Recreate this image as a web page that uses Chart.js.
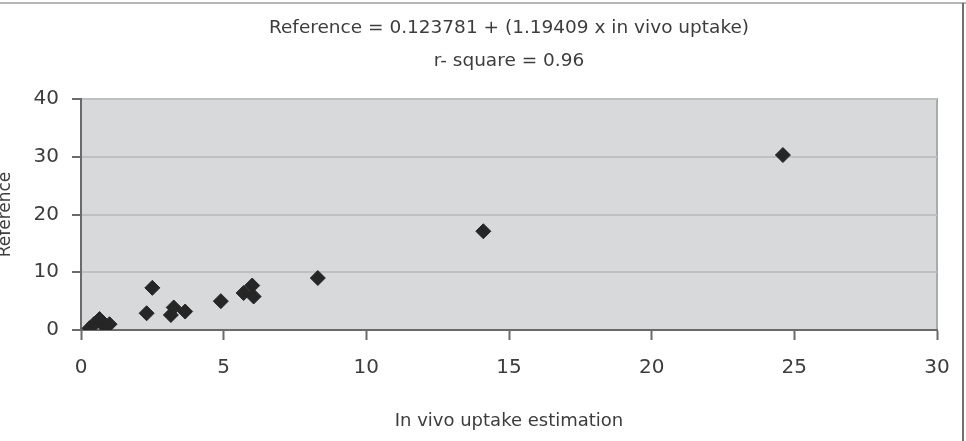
<!DOCTYPE html>
<html>
<head>
<meta charset="utf-8">
<script src="https://cdn.jsdelivr.net/npm/chart.js@4/dist/chart.umd.min.js"></script>
<style>
  html, body { margin: 0; padding: 0; background: #ffffff; }
  #wrap { width: 966px; height: 441px; position: relative; }
</style>
</head>
<body>
<div id="wrap"><canvas id="chart" width="966" height="441"></canvas></div>
<script>
// In vivo uptake estimation (x) against reference value (y)
const uptakeEstimation = [0.3, 0.45, 0.65, 0.85, 1.0, 2.3, 2.5, 3.15, 3.25, 3.65, 4.9, 5.7, 6.0, 6.05, 8.3, 14.1, 24.6];
const referenceValues  = [0.3, 1.0, 1.9, 0.5, 1.0, 2.9, 7.3, 2.6, 3.9, 3.2, 5.0, 6.4, 7.7, 5.8, 9.0, 17.1, 30.3];

const titleLines = ["Reference = 0.123781 + (1.19409 x in vivo uptake)", "r- square = 0.96"];
const xAxisTitle = "In vivo uptake estimation";
const yAxisTitle = "Reference";

const xTicks = [0, 5, 10, 15, 20, 25, 30];
const yTicks = [0, 10, 20, 30, 40];

const points = uptakeEstimation.map((x, i) => ({ x: x, y: referenceValues[i] }));

const fontFamily = "'DejaVu Sans', sans-serif";
const textColor = "#3d3d3d";
const axisColor = "#6a6a6a";

// grey plot background + frame lines
const plotBackground = {
  id: "plotBackground",
  beforeDraw(chart) {
    const { ctx, chartArea: a } = chart;
    ctx.save();
    ctx.fillStyle = "#d8d9db";
    ctx.fillRect(a.left, a.top, a.right - a.left, a.bottom - a.top);
    ctx.strokeStyle = "#a9aaac";
    ctx.lineWidth = 2;
    ctx.beginPath();
    ctx.moveTo(a.left, a.top);
    ctx.lineTo(a.right, a.top);
    ctx.lineTo(a.right, a.bottom);
    ctx.stroke();
    ctx.restore();
  },
  afterDraw(chart) {
    const { ctx, width, height } = chart;
    ctx.save();
    ctx.strokeStyle = "#b5b5b5";
    ctx.lineWidth = 2;
    ctx.beginPath();
    ctx.moveTo(0, 3);
    ctx.lineTo(width, 3);
    ctx.stroke();
    ctx.strokeStyle = "#707070";
    ctx.beginPath();
    ctx.moveTo(width - 3, 3);
    ctx.lineTo(width - 3, height);
    ctx.stroke();
    ctx.restore();
  }
};

new Chart(document.getElementById("chart"), {
  type: "scatter",
  data: {
    datasets: [{
      data: points,
      pointStyle: "rectRot",
      pointRadius: 7.5,
      pointBackgroundColor: "#262626",
      pointBorderColor: "#262626",
      pointBorderWidth: 1
    }]
  },
  plugins: [plotBackground],
  options: {
    responsive: false,
    animation: false,
    layout: { padding: { left: 0, right: 29, top: 0, bottom: 0 } },
    plugins: {
      legend: { display: false },
      tooltip: { enabled: false },
      title: {
        display: true,
        fullSize: false, // centre over the plot area, not the whole canvas
        text: titleLines,
        color: textColor,
        font: { family: fontFamily, size: 18.5, weight: "normal", lineHeight: 1.784 },
        padding: { top: 12, bottom: 21 }
      }
    },
    scales: {
      x: {
        type: "linear",
        min: xTicks[0],
        max: xTicks[xTicks.length - 1],
        afterBuildTicks(scale) { scale.ticks = xTicks.map(v => ({ value: v })); },
        afterFit(scale) { scale.height = 111; },
        grid: { drawOnChartArea: false, drawTicks: true, tickLength: 10, tickColor: axisColor, tickWidth: 2 },
        border: { color: axisColor, width: 2 },
        ticks: { color: textColor, padding: 16, font: { family: fontFamily, size: 20 } },
        title: {
          display: true,
          text: xAxisTitle,
          color: textColor,
          font: { family: fontFamily, size: 18 },
          padding: { top: 0, bottom: 9 }
        }
      },
      y: {
        type: "linear",
        min: yTicks[0],
        max: yTicks[yTicks.length - 1],
        afterBuildTicks(scale) { scale.ticks = yTicks.map(v => ({ value: v })); },
        afterFit(scale) { scale.width = 81; },
        grid: { color: "#bfc0c2", lineWidth: 2, drawTicks: true, tickLength: 9, tickColor: axisColor, tickWidth: 2 },
        border: { color: axisColor, width: 2 },
        ticks: { color: textColor, padding: 13, font: { family: fontFamily, size: 20 } },
        title: {
          display: true,
          text: yAxisTitle,
          color: textColor,
          font: { family: fontFamily, size: 17 },
          padding: { top: -5, bottom: 0 }
        }
      }
    }
  }
});
</script>
</body>
</html>
